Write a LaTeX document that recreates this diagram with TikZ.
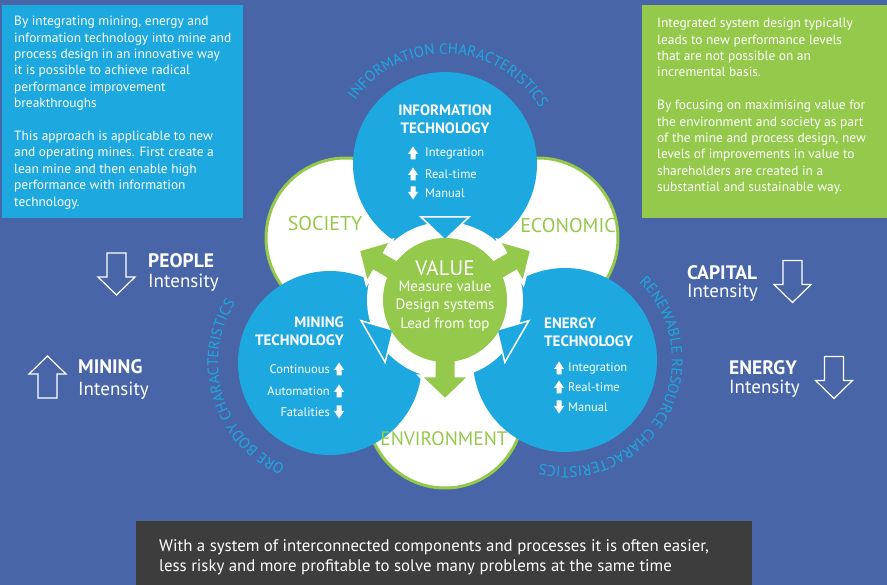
\documentclass[tikz,border=0pt]{standalone}
\usepackage{fontspec}
\setmainfont{PT Sans}
\usetikzlibrary{decorations.text}

\definecolor{bgblue}{RGB}{72,102,167}
\definecolor{skyblue}{RGB}{29,168,224}
\definecolor{leafgreen}{RGB}{148,201,75}
\definecolor{slate}{RGB}{61,61,61}

\newcommand\fsz[2]{\fontsize{#1}{#2}\selectfont}

\tikzset{
  sector/.style={fill=white, draw=leafgreen, line width=3pt},
  sectorlabel/.style={text=leafgreen, font=\fsz{20}{20}, inner sep=0},
  boxtext/.style={inner sep=0, align=left, text=white, font=\fsz{13.4}{16.4}},
  techhead/.style={inner sep=0, text=white, font=\bfseries\fsz{15}{18}},
  listtext/.style={inner sep=0, text=white, font=\fsz{12.5}{12.5}},
  inthead/.style={inner sep=0, anchor=west, text=white, font=\bfseries\fsz{19.5}{19.5}},
  inttext/.style={inner sep=0, anchor=west, text=white, font=\fsz{19}{19}},
  curvedtext/.style={decorate, decoration={text along path, text align=center,
    text color=skyblue, text={|\fsz{15}{15}|#1}}},
  blockarr/.pic={\fill[white] (-2.5,-6.5) -- (2.5,-6.5) -- (2.5,-1) -- (5,-1) -- (0,6.5)
    -- (-5,-1) -- (-2.5,-1) -- cycle;},
  bigarr/.pic={\draw[white, line width=1.2pt] (-9.5,21) -- (9.5,21) -- (9.5,-3) -- (18.5,-3)
    -- (0,-21) -- (-18.5,-3) -- (-9.5,-3) -- cycle;},
}

\begin{document}
\begin{tikzpicture}[x=1pt,y=1pt]
\useasboundingbox (0,0) rectangle (887,-585);
\fill[bgblue] (0,0) rectangle (887,-585);

\coordinate (V)   at (445,-300);
\coordinate (itc) at (445,-164);
\coordinate (mtc) at (330,-363);
\coordinate (etc) at (565,-360);

% society, economic, environment
\foreach \c/\r in {{(346,-238)}/80, {(538,-238)}/80, {(445,-410)}/78}
  \filldraw[sector] \c circle (\r);

% technology circles
\foreach \c in {itc,mtc,etc}
  \fill[skyblue] (\c) circle (92);

\fill[white] (V) circle (78);
\foreach \a in {90,210,330} {
  \begin{scope}[shift={(V)}, rotate=\a]
    \filldraw[fill=skyblue, draw=white, line width=1.5pt] (83,-24) -- (60,0) -- (83,24) -- cycle;
  \end{scope}
}
\foreach \a in {30,150,270} {
  \begin{scope}[shift={(V)}, rotate=\a]
    \filldraw[fill=leafgreen, draw=white, line width=3pt] (50,-11) -- (76,-11) -- (76,-25)
      -- (100,0) -- (76,25) -- (76,11) -- (50,11) -- cycle;
  \end{scope}
}
\fill[leafgreen] (V) circle (62);

\node[sectorlabel] (society) at (325,-224) {SOCIETY};
\node[sectorlabel] (economic) at (568,-226) {ECONOMIC};
\node[sectorlabel, font=\fsz{19.5}{19.5}] (environment) at (444,-439) {ENVIRONMENT};

\node[text=white, font=\fsz{21}{21}, inner sep=0] (value) at (445,-268) {VALUE};
\node[text=white, font=\fsz{15}{18.5}, align=center, inner sep=0] (valuelist) at (445,-306)
  {Measure value\\Design systems\\Lead from top};

% information technology
\node[techhead, align=center] (ithead) at (445,-119) {INFORMATION\\TECHNOLOGY};
\foreach \y/\t/\r in {153/Integration/0, 174/Real-time/0, 193/Manual/180} {
  \pic[rotate=\r] at (413,-\y) {blockarr};
  \node[listtext, anchor=west] (it\y) at (425,-\y) {\t};
}

% mining technology
\node[techhead, align=right, anchor=east] (mthead) at (344,-331) {MINING\\TECHNOLOGY};
\foreach \y/\t/\r in {369/Continuous/0, 391/Automation/0, 412/Fatalities/180} {
  \pic[rotate=\r] at (339,-\y) {blockarr};
  \node[listtext, anchor=east] (mt\y) at (330,-\y) {\t};
}

% energy technology
\node[techhead, align=left, anchor=west] (ethead) at (544,-332) {ENERGY\\TECHNOLOGY};
\foreach \y/\t/\r in {368/Integration/0, 387/Real-time/0, 407/Manual/180} {
  \pic[rotate=\r] at (559,-\y) {blockarr};
  \node[listtext, anchor=west] (et\y) at (568,-\y) {\t};
}

% characteristics round the circles
\path[curvedtext={INFORMATION CHARACTERISTICS}] (itc) ++(150:110) arc (150:25:110);
\path[curvedtext={ORE BODY CHARACTERISTICS}] (mtc) ++(252:112) arc (252:142:112);
\path[curvedtext={RENEWABLE RESOURCE CHARACTERISTICS}] (etc) ++(50:107) arc (50:-107:107);

% intensities
\pic at (116.5,-274) {bigarr};
\node[inthead] (people) at (148,-261) {PEOPLE};
\node[inttext] (peopleint) at (148,-283) {Intensity};
\pic[rotate=180] at (47.5,-377) {bigarr};
\node[inthead] (mining) at (78,-367) {MINING};
\node[inttext] (miningint) at (78,-391) {Intensity};
\pic at (792.5,-281.5) {bigarr};
\node[inthead] (capital) at (687,-273) {CAPITAL};
\node[inttext] (capitalint) at (687,-293) {Intensity};
\pic at (834,-377.5) {bigarr};
\node[inthead] (energy) at (729,-368) {ENERGY};
\node[inttext] (energyint) at (729,-389) {Intensity};

% text boxes
\fill[skyblue] (2,-5) rectangle (243,-218);
\node[boxtext, anchor=north west] (intro) at (14,-16)
  {By integrating mining, energy and\\information technology into mine and\\
   process design in an innovative way\\it is possible to achieve radical\\
   performance improvement\\breakthroughs\\[16.4pt]
   This approach is applicable to new\\and operating mines. First create a\\
   lean mine and then enable high\\performance with information\\technology.};
\fill[leafgreen] (642,-5) rectangle (887,-218);
\node[boxtext, anchor=north west] (design) at (657,-18)
  {Integrated system design typically\\leads to new performance levels\\
   that are not possible on an\\incremental basis.\\[16.4pt]
   By focusing on maximising value for\\the environment and society as part\\
   of the mine and process design, new\\levels of improvements in value to\\
   shareholders are created in a\\substantial and sustainable way.};
\fill[slate] (136,-521) rectangle (752,-585);
\node[boxtext, font=\fsz{16.8}{20}, anchor=north west] (summary) at (159,-539)
  {With a system of interconnected components and processes it is often easier,\\
   less risky and more profitable to solve many problems at the same time};
\end{tikzpicture}
\end{document}
